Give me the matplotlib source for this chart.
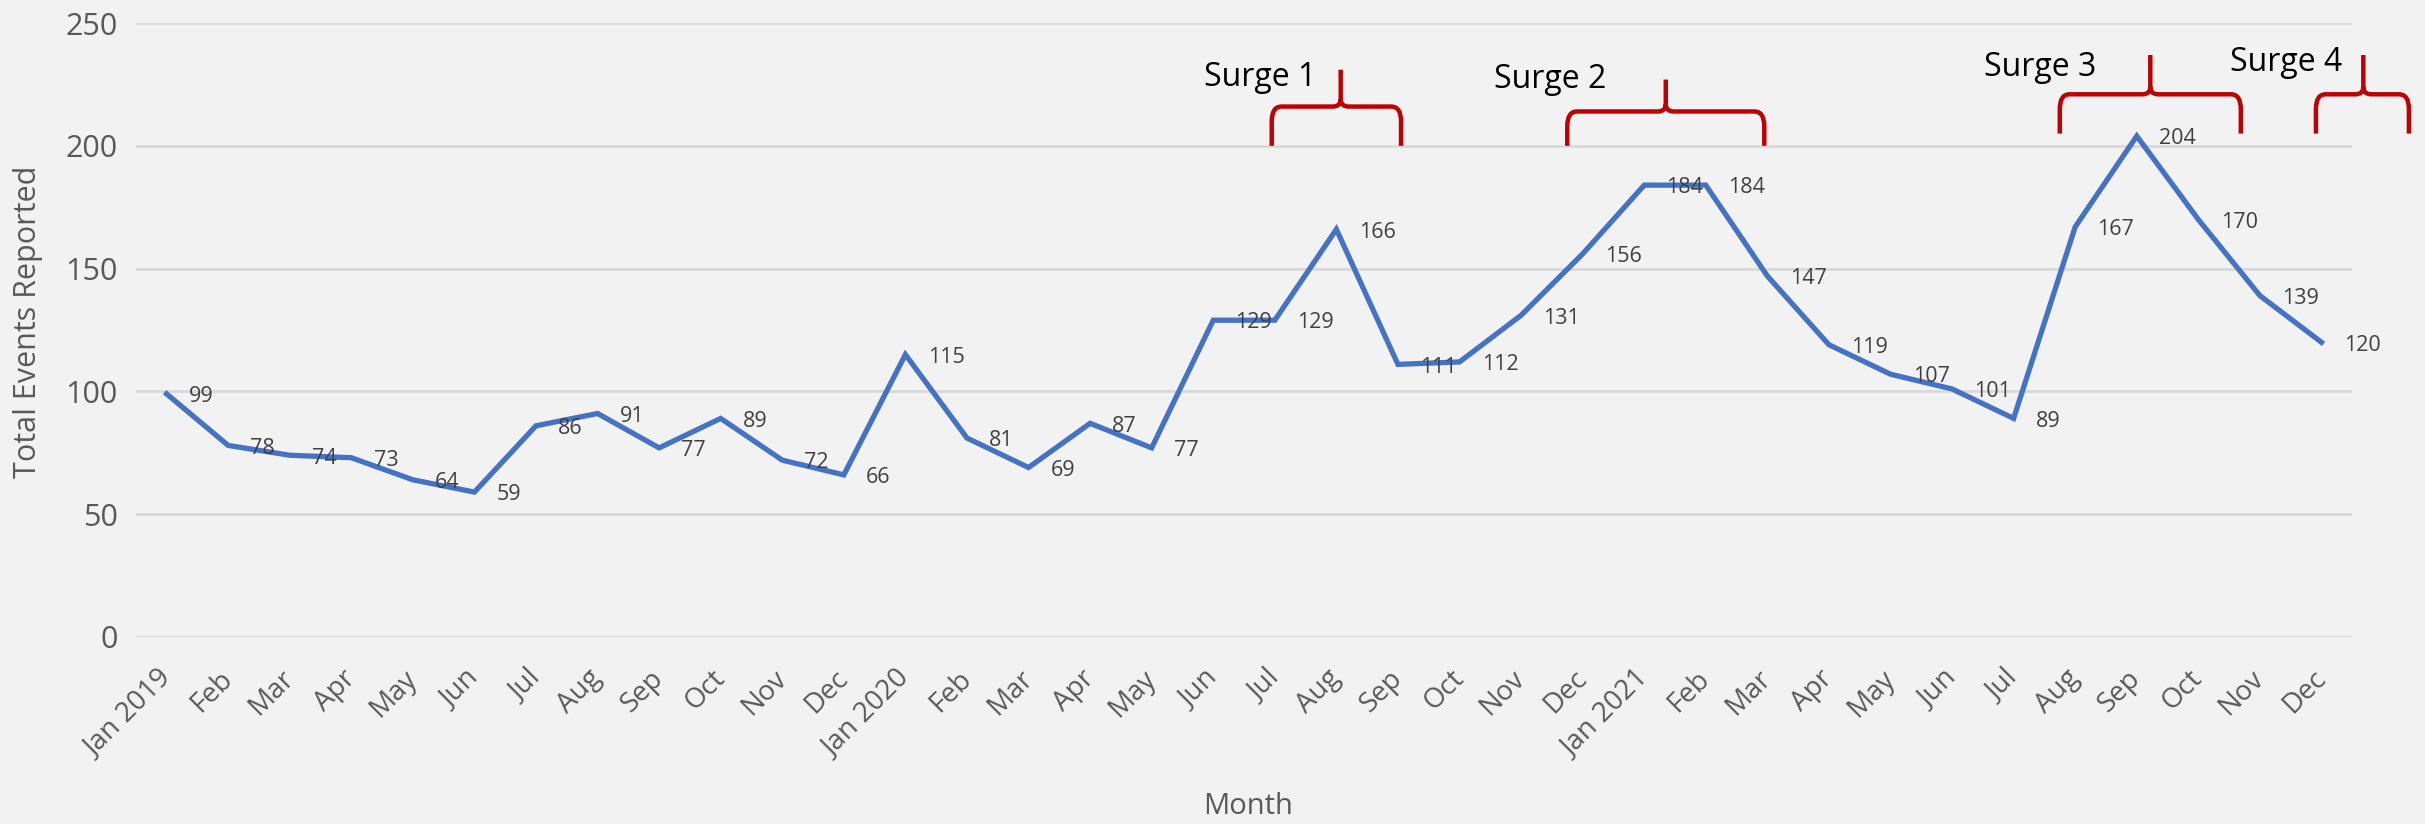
import matplotlib
matplotlib.use("Agg")
import matplotlib.pyplot as plt
from matplotlib.path import Path
from matplotlib.patches import PathPatch

plt.rcParams['font.family'] = ['Open Sans', 'DejaVu Sans']

months = ["Jan 2019", "Feb", "Mar", "Apr", "May", "Jun", "Jul", "Aug", "Sep", "Oct", "Nov", "Dec",
          "Jan 2020", "Feb", "Mar", "Apr", "May", "Jun", "Jul", "Aug", "Sep", "Oct", "Nov", "Dec",
          "Jan 2021", "Feb", "Mar", "Apr", "May", "Jun", "Jul", "Aug", "Sep", "Oct", "Nov", "Dec"]
events = [99, 78, 74, 73, 64, 59, 86, 91, 77, 89, 72, 66,
          115, 81, 69, 87, 77, 129, 129, 166, 111, 112, 131, 156,
          184, 184, 147, 119, 107, 101, 89, 167, 204, 170, 139, 120]

# surge brackets: (label, left, right, tip x, bottom, bar, tip y, label x, label y)
surges = [
    ("Surge 1", 17.95, 20.05, 19.07, 200, 216, 231, 17.77, 228),
    ("Surge 2", 22.75, 25.95, 24.35, 200, 214, 227, 22.47, 227),
    ("Surge 3", 30.75, 33.69, 32.22, 205, 221, 237, 30.43, 232),
    ("Surge 4", 34.91, 36.42, 35.68, 205, 221, 237, 34.43, 234),
]

BG = "#F2F2F2"
LINE = "#4472C4"
RED = "#C00000"
TXT = "#595959"


def brace_path(x0, x1, xc, yb, yh, yt, rx=0.16, ry=6.0, cx=0.13, cy=3.0):
    verts = [
        (x0, yb), (x0, yh - ry),
        (x0, yh), (x0 + rx, yh),
        (xc - cx, yh),
        (xc, yh), (xc, yh + cy),
        (xc, yt),
        (xc, yh + cy),
        (xc, yh), (xc + cx, yh),
        (x1 - rx, yh),
        (x1, yh), (x1, yh - ry),
        (x1, yb),
    ]
    codes = [Path.MOVETO, Path.LINETO,
             Path.CURVE3, Path.CURVE3,
             Path.LINETO,
             Path.CURVE3, Path.CURVE3,
             Path.LINETO,
             Path.MOVETO,
             Path.CURVE3, Path.CURVE3,
             Path.LINETO,
             Path.CURVE3, Path.CURVE3,
             Path.LINETO]
    return Path(verts, codes)


fig = plt.figure(figsize=(24.25, 8.24), dpi=100, facecolor=BG)
ax = fig.add_axes([0.056, 0.227, 0.914, 0.745])
ax.set_facecolor(BG)

x = list(range(len(events)))
ax.plot(x, events, color=LINE, linewidth=3.8, solid_joinstyle="miter", zorder=3)

for i, v in enumerate(events):
    ax.annotate(str(v), (i, v), xytext=(16, -2), textcoords="offset points",
                ha="left", va="center", fontsize=15.5, color="#404040", zorder=4)

ax.set_xlim(-0.5, len(events) - 0.5)
ax.set_ylim(0, 250)
ax.set_yticks(range(0, 251, 50))
ax.set_xticks(x)
ax.set_xticklabels(months, rotation=45, ha="right", va="center", rotation_mode="anchor")
ax.tick_params(axis="x", length=0, pad=27, labelsize=20, labelcolor=TXT)
ax.tick_params(axis="y", length=0, pad=13, labelsize=22, labelcolor=TXT)
ax.grid(axis="y", color="#D9D9D9", linewidth=2)
ax.set_axisbelow(True)
for s in ax.spines.values():
    s.set_visible(False)

ax.set_ylabel("Total Events Reported", fontsize=22, color=TXT, va="center")
ax.yaxis.set_label_coords(-0.0487, 0.513)
ax.set_xlabel("Month", fontsize=21, color=TXT)
ax.xaxis.set_label_coords(0.502, -0.277)
ax.xaxis.label.set_va("center")

for label, x0, x1, xc, yb, yh, yt, lx, ly in surges:
    ax.add_patch(PathPatch(brace_path(x0, x1, xc, yb, yh, yt), fill=False,
                           edgecolor=RED, linewidth=3.2, clip_on=False, zorder=5))
    ax.text(lx, ly, label, fontsize=23, color="black", ha="center", va="center", clip_on=False)

fig.savefig("out.png", dpi=100, facecolor=BG)
